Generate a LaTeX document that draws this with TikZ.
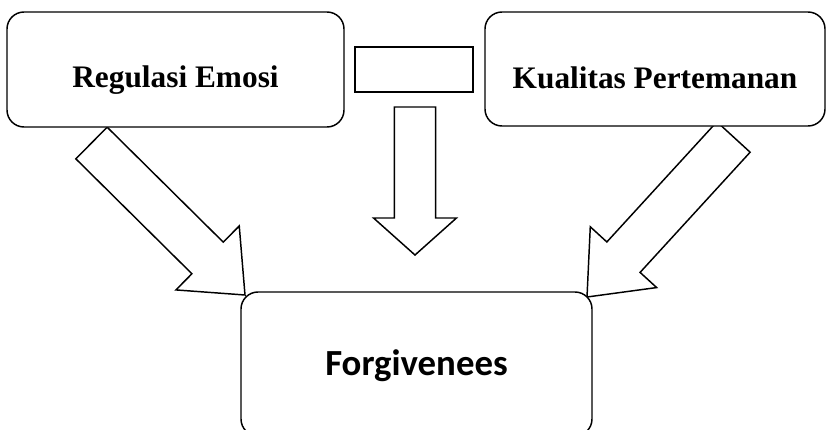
\documentclass[tikz,border=0pt]{standalone}
\usepackage{fontspec}
\setmainfont{Liberation Serif}
\newfontfamily\carlito{Carlito}
\usepackage{tikz}
\usetikzlibrary{calc}

% block arrow: tail, tip, half shaft, half head, head length
\newcommand{\fatarrow}[5]{%
  \coordinate (fa-h) at ($(#2)!#5!(#1)$);
  \draw[fat] ($(#1)!#3!90:(#2)$) -- ($(fa-h)!#3!90:(#2)$) -- ($(fa-h)!#4!90:(#2)$) -- (#2)
    -- ($(fa-h)!#4!-90:(#2)$) -- ($(fa-h)!#3!-90:(#2)$) -- ($(#1)!#3!-90:(#2)$) -- cycle;
}

\begin{document}
\begin{tikzpicture}[x=0.75pt, y=-0.75pt, line width=1.1pt,
    box/.style={draw, fill=white, rounded corners=12.75pt, inner sep=0pt, text depth=0pt},
    fat/.style={draw, fill=white, line join=miter}]
        \useasboundingbox (0,0) rectangle (827,429);
        \coordinate (la-tail) at (91.5,143);
        \coordinate (la-tip) at (245,295);
        \coordinate (ra-tail) at (733.5,137);
        \coordinate (ra-tip) at (587,297);
        \coordinate (da-tail) at (415,107);
        \coordinate (da-tip) at (415,255);
        \fatarrow{la-tail}{la-tip}{16.7pt}{33.75pt}{39.5pt}
        \fatarrow{ra-tail}{ra-tip}{16.9pt}{33.75pt}{40.5pt}
        \fatarrow{da-tail}{da-tip}{15.4pt}{31.1pt}{27.75pt}
        \node[box, minimum width=252.75pt, minimum height=86.25pt, text height=26.7pt] (reg) at (175.5,69.5)
            {\bfseries\fontsize{23.5}{28}\selectfont Regulasi Emosi};
        \node[box, minimum width=255pt, minimum height=85.5pt, text height=28.5pt] (kual) at (655,69)
            {\bfseries\fontsize{23.5}{28}\selectfont Kualitas Pertemanan};
        \node[draw, fill=white, minimum width=88.5pt, minimum height=33.75pt] (pair) at (414,69.5) {};
        \node[box, minimum width=263.25pt, minimum height=108pt, text height=16.5pt] (forg) at (416.5,364)
            {\carlito\bfseries\fontsize{27.6}{33}\selectfont Forgivenees};
    \end{tikzpicture}
\end{document}
